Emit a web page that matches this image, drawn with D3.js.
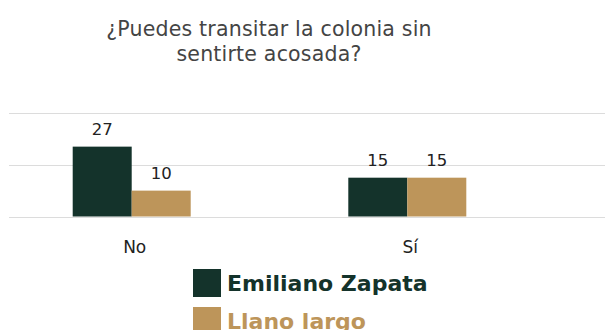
<!DOCTYPE html>
<html><head><meta charset="utf-8">
<script src="https://cdn.jsdelivr.net/npm/d3@7"></script>
<style>html,body{margin:0;padding:0;background:#fff;}</style>
</head><body>
<svg id="c" width="605" height="330"></svg>
<script>
const categories = ["No", "Sí"];
const seriesNames = ["Emiliano Zapata", "Llano largo"];
const emilianoZapata = [27, 15];
const llanoLargo = [10, 15];
const gridTicks = [0, 20, 40];
const colors = ["#14332b", "#bd955a"];
const titleLines = ["¿Puedes transitar la colonia sin", "sentirte acosada?"];

const svg = d3.select("#c");
const font = "'DejaVu Sans', sans-serif";
const values = [emilianoZapata, llanoLargo];

const y = d3.scaleLinear().domain([0, 40]).range([216.5, 113]);
const x = d3.scalePoint().domain(categories).range([131.7, 407.3]);
const xs = d3.scaleBand().domain(seriesNames).range([-59, 59]);

// title
svg.append("g").selectAll("text").data(titleLines).join("text")
  .attr("x", 269).attr("y", (d, i) => 36 + i * 25)
  .attr("text-anchor", "middle")
  .attr("font-family", font).attr("font-size", 20.5).attr("fill", "#444")
  .attr("letter-spacing", 0.2)
  .text(d => d);

// gridlines
svg.append("g").selectAll("line").data(gridTicks).join("line")
  .attr("x1", 9).attr("x2", 605)
  .attr("y1", d => Math.round(y(d)) + 0.5).attr("y2", d => Math.round(y(d)) + 0.5)
  .attr("stroke", "#dcdcdc").attr("stroke-width", 1);

// bars
const groups = svg.append("g").selectAll("g").data(categories).join("g")
  .attr("transform", d => `translate(${x(d)},0)`);
groups.selectAll("rect").data((c, ci) => seriesNames.map((s, si) => ({s, si, v: values[si][ci]})))
  .join("rect")
  .attr("x", d => xs(d.s)).attr("width", xs.bandwidth())
  .attr("y", d => y(d.v)).attr("height", d => y(0) - y(d.v))
  .attr("fill", d => colors[d.si]);
groups.selectAll("text").data((c, ci) => seriesNames.map((s, si) => ({s, si, v: values[si][ci]})))
  .join("text")
  .attr("x", d => xs(d.s) + xs.bandwidth() / 2)
  .attr("y", d => y(d.v) - 12)
  .attr("text-anchor", "middle")
  .attr("font-family", font).attr("font-size", 16.5).attr("fill", "#222")
  .text(d => d.v);

// category labels
svg.append("g").selectAll("text").data(categories).join("text")
  .attr("x", d => x(d) + 3).attr("y", 253)
  .attr("text-anchor", "middle")
  .attr("font-family", font).attr("font-size", 17).attr("fill", "#222")
  .text(d => d);

// legend
const lg = svg.append("g").selectAll("g").data(seriesNames).join("g")
  .attr("transform", (d, i) => `translate(193,${269 + i * 38})`);
lg.append("rect").attr("width", 28).attr("height", 28).attr("fill", (d, i) => colors[i]);
lg.append("text").attr("x", 34).attr("y", 22)
  .attr("font-family", font).attr("font-size", 22).attr("font-weight", 700)
  .attr("fill", (d, i) => colors[i])
  .text(d => d);
</script>
</body></html>
